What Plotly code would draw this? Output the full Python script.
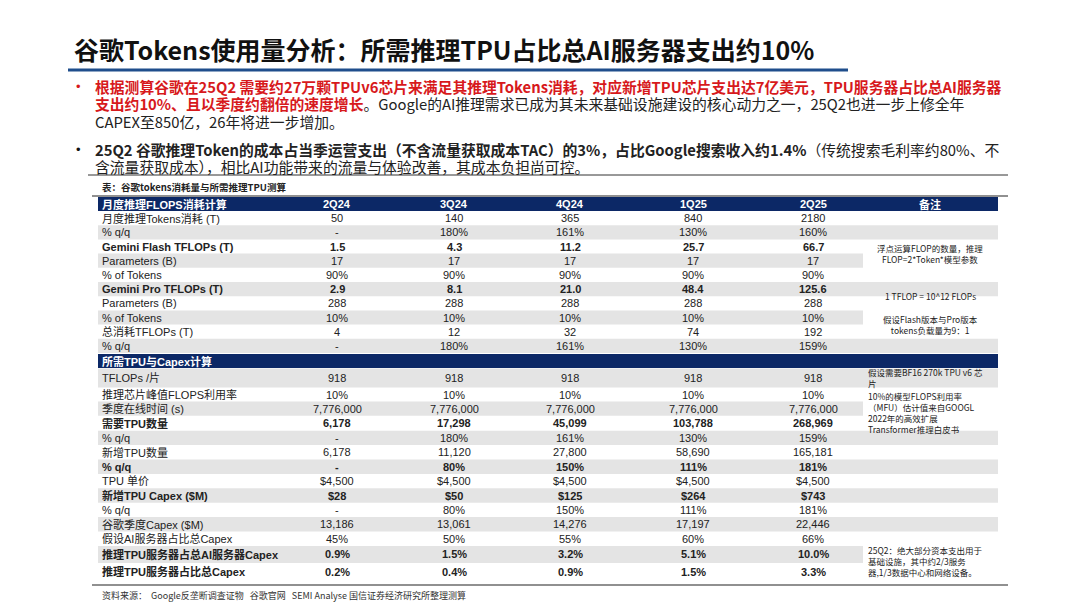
import plotly.graph_objects as go

quarters = ["2Q24", "3Q24", "4Q24", "1Q25", "2Q25"]
sec1_title = "月度推理FLOPS消耗计算"
sec1_labels = ["月度推理Tokens消耗 (T)", "% q/q", "Gemini Flash TFLOPs (T)", "Parameters (B)", "% of Tokens",
               "Gemini Pro TFLOPs (T)", "Parameters (B)", "% of Tokens", "总消耗TFLOPs (T)", "% q/q"]
sec1_values = [
    ["50", "140", "365", "840", "2180"],
    ["-", "180%", "161%", "130%", "160%"],
    ["1.5", "4.3", "11.2", "25.7", "66.7"],
    ["17", "17", "17", "17", "17"],
    ["90%", "90%", "90%", "90%", "90%"],
    ["2.9", "8.1", "21.0", "48.4", "125.6"],
    ["288", "288", "288", "288", "288"],
    ["10%", "10%", "10%", "10%", "10%"],
    ["4", "12", "32", "74", "192"],
    ["-", "180%", "161%", "130%", "159%"],
]
sec1_bold = [False, False, True, False, False, True, False, False, False, False]
sec2_title = "所需TPU与Capex计算"
sec2_labels = ["TFLOPs /片", "推理芯片峰值FLOPS利用率", "季度在线时间 (s)", "需要TPU数量", "% q/q", "新增TPU数量",
               "% q/q", "TPU 单价", "新增TPU Capex ($M)", "% q/q", "谷歌季度Capex ($M)", "假设AI服务器占比总Capex",
               "推理TPU服务器占总AI服务器Capex", "推理TPU服务器占比总Capex"]
sec2_values = [
    ["918", "918", "918", "918", "918"],
    ["10%", "10%", "10%", "10%", "10%"],
    ["7,776,000", "7,776,000", "7,776,000", "7,776,000", "7,776,000"],
    ["6,178", "17,298", "45,099", "103,788", "268,969"],
    ["-", "180%", "161%", "130%", "159%"],
    ["6,178", "11,120", "27,800", "58,690", "165,181"],
    ["-", "80%", "150%", "111%", "181%"],
    ["$4,500", "$4,500", "$4,500", "$4,500", "$4,500"],
    ["$28", "$50", "$125", "$264", "$743"],
    ["-", "80%", "150%", "111%", "181%"],
    ["13,186", "13,061", "14,276", "17,197", "22,446"],
    ["45%", "50%", "55%", "60%", "66%"],
    ["0.9%", "1.5%", "3.2%", "5.1%", "10.0%"],
    ["0.2%", "0.4%", "0.9%", "1.5%", "3.3%"],
]
sec2_bold = [False, False, False, True, False, False, True, False, True, False, False, False, True, True]

title = "谷歌Tokens使用量分析：所需推理TPU占比总AI服务器支出约10%"
bullet1 = ["<span style='color:#d7191c'><b>根据测算谷歌在25Q2 需要约27万颗TPUv6芯片来满足其推理Tokens消耗，对应新增TPU芯片支出达7亿美元，TPU服务器占比总AI服务器</b></span>",
           "<span style='color:#d7191c'><b>支出约10%、且以季度约翻倍的速度增长</b></span>。Google的AI推理需求已成为其未来基础设施建设的核心动力之一，25Q2也进一步上修全年",
           "CAPEX至850亿，26年将进一步增加。"]
bullet2 = ["<b>25Q2 谷歌推理Token的成本占当季运营支出（不含流量获取成本TAC）的3%，占比Google搜索收入约1.4%</b>（传统搜索毛利率约80%、不",
           "含流量获取成本），相比AI功能带来的流量与体验改善，其成本负担尚可控。"]
caption = "表：谷歌tokens消耗量与所需推理TPU测算"
notes_header = "备注"
source = "资料来源：  Google反垄断调查证物   谷歌官网   SEMI Analyse 国信证券经济研究所整理测算"

FONT = "Liberation Sans, Arial, Noto Sans CJK SC, sans-serif"
CJK = "Noto Sans CJK SC, sans-serif"
NAVY = "#0c2866"
GREY = "#e4e4e4"

fig = go.Figure()
shapes, ann = [], []

def txt(x, y, s, size=11, color="#222", anchor="left", bold=False, family=FONT):
    ann.append(dict(x=x, y=y, xref="x", yref="y", text=("<b>%s</b>" % s) if bold else s, showarrow=False,
                    xanchor=anchor, yanchor="middle", font=dict(size=size, color=color, family=family)))

def rect(x0, y0, x1, y1, color):
    shapes.append(dict(type="rect", xref="x", yref="y", x0=x0, y0=y0, x1=x1, y1=y1, fillcolor=color,
                       line=dict(width=0), layer="below"))

def line(x0, y0, x1, y1, color, w):
    shapes.append(dict(type="line", xref="x", yref="y", x0=x0, y0=y0, x1=x1, y1=y1, line=dict(color=color, width=w)))

# Title
txt(64, 41, title, size=25, color="#111", bold=True, family=CJK)
line(60, 62, 840, 62, "#1f4e8c", 3)

# bullets
for i, s in enumerate(bullet1):
    txt(85, 78 + i * 17.6, s, size=14.8, family=CJK)
txt(66, 78, "•", size=13, color="#d7191c")
for i, s in enumerate(bullet2):
    txt(85, 141 + i * 17.6, s, size=14.8, family=CJK)
txt(66, 141, "•", size=13, color="#111")
line(80, 167, 1000, 167, "#333", 1)

# table
txt(92, 179, caption, size=9.5, color="#222", bold=True, family=CJK)
line(84, 188, 1000, 188, "#222", 1.2)
X0, X1, NOTE0 = 90, 990, 855
colx = [329, 446, 562, 685, 805]
notex = 922

rect(X0, 189, X1, 203, NAVY)
txt(92, 196, sec1_title, size=11, color="white", bold=True)
for q, cx in zip(quarters, colx):
    txt(cx, 196, q, size=11, color="white", bold=True, anchor="center")
txt(notex, 196, notes_header, size=11, color="white", bold=True, anchor="center", family=CJK)

rh = 14.2
y = 203
for i, (lab, vals, b) in enumerate(zip(sec1_labels, sec1_values, sec1_bold)):
    if i % 2 == 1:
        rect(X0, y, NOTE0, y + rh, GREY)
        if i in (1, 5, 9):
            rect(NOTE0, y, X1, y + rh, GREY)
    yc = y + rh / 2
    txt(92, yc, lab, bold=b)
    for v, cx in zip(vals, colx):
        txt(cx, yc, v, bold=b, anchor="center")
    y += rh
notes1 = [(245, "浮点运算FLOP的数量，推理<br>FLOP=2*Token*模型参数"), (288, "1 TFLOP = 10^12 FLOPs"),
          (316, "假设Flash版本与Pro版本<br>tokens负载量为9：1")]
for yy, s in notes1:
    txt(notex, yy, s, size=8.5, anchor="center", family=CJK)

y += 1
rect(X0, y, X1, y + 14, NAVY)
txt(92, y + 7, sec2_title, size=11, color="white", bold=True)
y += 14.5
heights = [19, 14, 14.2, 15, 14.4, 14.4, 14.4, 14.4, 14.4, 14.4, 14.4, 14.4, 17, 18]
for i, (lab, vals, b) in enumerate(zip(sec2_labels, sec2_values, sec2_bold)):
    h = heights[i]
    if i % 2 == 0:
        rect(X0, y, NOTE0, y + h, GREY)
        if i in (0, 4, 6, 8, 10):
            rect(NOTE0, y, X1, y + h, GREY)
    yc = y + h / 2
    txt(92, yc, lab, bold=b)
    for v, cx in zip(vals, colx):
        txt(cx, yc, v, bold=b, anchor="center")
    y += h
notes2 = [(369, "假设需要BF16 270k TPU v6 芯<br>片"), (404, "10%的模型FLOPS利用率<br>（MFU）估计值来自GOOGL<br>2022年的高效扩展<br>Transformer推理白皮书"),
          (553, "25Q2：绝大部分资本支出用于<br>基础设施，其中约2/3服务<br>器,1/3数据中心和网络设备。")]
for yy, s in notes2:
    ann.append(dict(x=858, y=yy, xref="x", yref="y", text=s, showarrow=False, xanchor="left", yanchor="middle",
                    align="left", font=dict(size=8.5, color="#222", family=CJK)))
line(84, 577, 1000, 577, "#222", 1.2)
txt(92, 587, source, size=9, color="#333", family=CJK)

fig.update_layout(width=1080, height=608, margin=dict(l=0, r=0, t=0, b=0), plot_bgcolor="white",
                  paper_bgcolor="white", shapes=shapes, annotations=ann, showlegend=False,
                  xaxis=dict(range=[0, 1080], visible=False, fixedrange=True),
                  yaxis=dict(range=[608, 0], visible=False, fixedrange=True))
fig.write_html("out.html")
